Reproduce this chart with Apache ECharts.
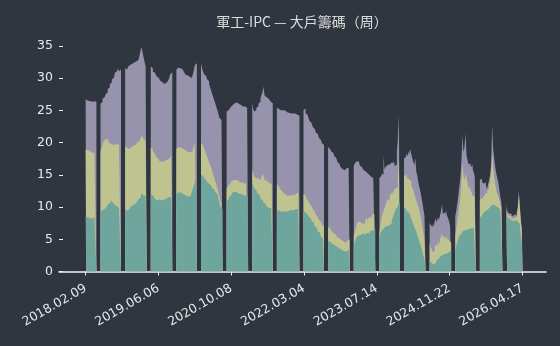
<!DOCTYPE html>
<html><head><meta charset="utf-8">
<script src="https://cdn.jsdelivr.net/npm/echarts@6/dist/echarts.min.js"></script>
<style>html,body{margin:0;padding:0;background:#30363f}#c{width:560px;height:346px}</style>
</head><body><div id="c"></div>
<script>
const _ = null; // missing weeks
const titleText = '軍工-IPC — 大戶籌碼（周）';
const tickIndex = [0, 71, 142, 213, 284, 355, 426];
const tickLabels = ['2018.02.09', '2019.06.06', '2020.10.08', '2022.03.04', '2023.07.14', '2024.11.22', '2026.04.17'];
const yTicks = [0, 5, 10, 15, 20, 25, 30, 35];

// cumulative share of large holders (top = purple, mid = yellow, bottom = teal)
const topShare = [
26.7,26.6,26.5,26.6,26.4,26.5,26.3,26.2,26.4,26.5,26.3, _,_,_,_,
26.0,26.3,26.8,27.0,27.2,27.5,27.8,28.3,28.5,29.0,29.3,29.8,30.0,30.3,30.8,31.0,31.3,31.5,31.0,31.3, _,_,_,_,
31.5,31.3,31.6,31.8,31.7,32.0,32.2,32.1,32.4,32.3,32.6,32.5,32.8,33.0,33.5,34.2,34.8,34.0,33.2,32.5,31.8, _,_,_,_,
31.8,31.5,31.0,30.8,30.6,30.5,30.2,30.0,29.8,29.6,29.4,29.3,29.1,29.0,29.2,29.4,29.3,29.6,30.0,30.6,30.9, _,_,_,_,
31.3,31.6,31.8,31.7,31.5,31.3,31.0,30.9,30.7,30.5,30.6,30.4,30.2,30.0,30.1,30.0,30.5,31.2,32.0,32.3, _,_,_,_,
32.3,31.5,31.0,30.6,30.3,30.0,29.8,29.5,29.0,28.5,28.0,27.5,27.0,26.5,26.0,25.5,25.0,24.4,23.8,23.5,23.8, _,_,_,_,
24.8,25.0,25.3,25.2,25.5,25.6,25.8,25.9,26.1,26.0,26.2,26.0,25.9,25.8,25.7,25.6,25.8,25.6,25.5,25.4,25.3, _,_,_,_,
26.1,25.2,24.8,25.0,25.4,25.6,26.0,26.3,26.8,27.4,27.8,28.7,27.3,27.0,27.2,26.8,26.6,26.5,26.3,26.1, _,_,_,_,
25.4,25.3,25.2,25.0,25.1,25.0,24.9,25.0,24.8,24.9,24.7,24.8,24.6,24.7,24.5,24.6,24.5,24.4,24.5,24.3,24.4,24.2, _,_,_,_,
25.0,25.3,24.5,24.3,24.0,23.7,23.3,23.0,22.7,22.4,22.1,21.8,21.5,21.3,21.0,20.7,20.4,20.1,19.9,19.6, _,_,_,_,
19.3,19.0,18.8,18.6,18.4,18.2,17.9,17.6,17.3,17.0,16.7,16.4,16.2,15.9,15.7,15.6,15.7,15.8,16.0,15.9,16.1, _,_,_,_,
16.3,16.8,17.1,17.3,17.0,16.7,16.4,16.2,16.0,15.8,15.6,15.5,15.3,15.2,15.0,14.9,14.7,14.6,14.5,14.3,14.2, _,_,_,_,
14.5,14.8,15.2,15.0,18.0,15.8,16.2,16.5,16.8,16.6,16.4,16.9,17.2,16.8,17.4,16.3,16.6,18.5,20.5,24.3, _,_,_,_,
17.5,17.8,18.2,17.9,18.6,18.2,19.0,18.3,17.6,17.0,16.5,17.6,15.5,14.8,13.8,13.1,12.4,11.5,10.6,9.6,8.6, _,_,_,_,
7.6,7.2,6.9,7.4,7.0,7.8,8.2,7.6,8.4,8.0,8.6,9.3,10.3,8.9,9.2,8.6,9.5,8.7,8.2,7.8,7.0, _,_,_,_,
8.6,9.4,10.5,11.8,13.2,14.5,17.0,21.0,18.5,19.3,21.4,18.0,17.2,16.6,16.8,16.2,16.5,15.9,16.0,14.8, _,_,_,_,
14.2,14.4,13.9,13.6,13.3,13.8,13.2,12.8,13.5,14.2,15.0,16.5,22.7,19.0,17.5,16.2,15.2,14.5,13.8,12.6,11.5,10.6, _,_,_,_,
10.3,9.2,9.0,8.7,8.9,8.5,8.8,8.4,8.9,8.6,9.2,10.0,12.6,10.2,8.0,6.5
];
const midShare = [
18.9,18.8,18.8,18.7,18.6,18.6,18.5,18.4,18.4,18.3,18.3, _,_,_,_,
18.6,19.2,19.8,20.2,20.5,20.4,20.6,20.3,20.0,19.8,19.9,19.7,19.8,19.6,19.7,19.8,19.6,19.5,19.6,19.5, _,_,_,_,
19.4,19.2,19.0,18.9,19.0,19.2,19.3,19.5,19.4,19.6,19.8,19.9,20.0,20.2,20.4,20.7,21.0,20.8,20.5,20.2,20.0, _,_,_,_,
19.2,19.0,18.6,18.3,18.0,17.8,17.6,17.4,17.2,17.0,16.9,17.0,17.1,17.2,17.0,17.1,17.3,17.4,17.5,17.6,18.0, _,_,_,_,
19.0,19.3,19.4,19.2,19.3,19.1,19.0,18.9,18.8,18.7,18.6,18.5,18.4,18.5,18.3,18.6,19.0,19.4,19.9,20.0, _,_,_,_,
19.9,19.6,19.3,19.0,18.6,18.2,17.8,17.3,16.9,16.5,16.0,15.5,15.0,14.5,14.0,13.4,12.9,12.3,11.6,10.9,10.5, _,_,_,_,
12.8,13.2,13.5,13.8,13.9,14.0,14.2,14.3,14.2,14.1,14.2,14.0,13.9,13.8,13.7,13.8,13.9,13.7,13.8,13.6,13.7, _,_,_,_,
15.8,15.2,14.7,14.5,14.3,14.2,14.4,14.2,14.0,14.6,15.2,14.8,14.2,14.0,14.5,13.9,13.7,13.8,13.6,13.5, _,_,_,_,
13.5,13.2,13.0,12.8,12.5,12.3,12.2,12.1,12.0,11.9,11.8,11.7,11.6,11.8,11.7,11.9,12.0,11.8,11.9,12.1,12.0,12.2, _,_,_,_,
12.0,11.8,11.5,11.2,10.9,10.6,10.4,10.1,9.8,9.6,9.3,9.1,8.8,8.5,8.2,8.0,7.7,7.4,7.2,7.0, _,_,_,_,
6.9,6.7,6.5,6.3,6.2,6.0,5.8,5.6,5.5,5.3,5.2,5.1,5.0,4.9,4.8,4.7,4.6,4.5,4.6,4.8,5.0, _,_,_,_,
5.5,6.2,6.8,7.5,7.8,8.0,8.1,7.6,7.3,7.8,7.2,7.6,8.3,8.0,7.7,8.5,8.3,8.6,8.8,8.7,8.9, _,_,_,_,
6.0,7.2,8.3,8.8,9.4,9.8,10.3,10.8,11.2,11.0,11.6,12.0,12.3,11.8,12.6,12.9,13.2,13.0,14.5,17.5, _,_,_,_,
14.8,15.0,14.7,14.5,14.6,14.3,14.0,13.5,13.0,12.6,12.0,11.5,11.0,10.5,10.0,9.5,8.7,7.9,6.9,5.8,4.6, _,_,_,_,
4.4,3.8,3.4,3.0,3.2,3.8,4.2,3.9,4.6,4.3,5.0,5.4,6.0,5.2,5.6,5.0,5.5,5.1,4.8,5.0,4.5, _,_,_,_,
5.6,6.6,7.8,9.0,10.2,11.6,14.0,16.8,14.8,14.2,15.2,14.6,13.8,12.8,13.2,12.6,12.2,11.8,11.6,11.2, _,_,_,_,
11.0,11.4,11.2,11.6,11.8,12.2,12.0,12.5,12.8,13.4,14.0,15.6,18.3,16.0,14.6,13.5,12.6,12.0,11.6,11.1,10.5,10.0, _,_,_,_,
9.8,8.8,8.6,8.3,8.5,8.1,8.4,8.0,8.5,8.2,8.8,9.6,11.8,9.7,7.6,6.0
];
const lowShare = [
8.5,8.4,8.4,8.3,8.3,8.2,8.3,8.2,8.3,8.4,8.3, _,_,_,_,
9.3,9.4,9.5,9.7,9.8,10.0,10.2,10.4,10.6,10.8,11.0,10.7,10.5,10.4,10.3,10.2,10.1,10.0,9.9,9.8, _,_,_,_,
9.6,9.5,9.4,9.6,9.8,10.0,10.1,10.2,10.4,10.5,10.7,10.9,11.0,11.2,11.5,11.8,12.1,12.0,11.8,11.9,11.7, _,_,_,_,
12.0,11.8,11.6,11.5,11.3,11.2,11.0,10.9,11.2,11.0,10.8,11.1,10.9,11.0,11.2,11.3,11.4,11.5,11.6,11.4,11.5, _,_,_,_,
12.0,12.2,12.4,12.5,12.3,12.1,12.0,11.9,11.8,11.7,11.8,11.6,11.7,11.8,11.9,12.3,12.8,13.3,13.8,14.2, _,_,_,_,
15.0,14.8,14.6,14.4,14.2,14.0,13.8,13.6,13.5,13.3,13.1,12.9,12.7,12.5,12.3,12.0,11.7,11.2,10.7,10.0,9.7, _,_,_,_,
10.9,11.2,11.5,11.7,11.9,12.1,12.3,12.4,12.4,12.3,12.2,12.1,12.0,11.9,12.0,11.9,11.8,11.9,11.8,11.7,11.8, _,_,_,_,
13.7,13.3,12.9,12.6,12.3,12.1,11.9,11.6,11.3,11.1,10.9,10.7,10.5,10.3,10.1,10.0,9.9,9.8,9.8,9.7, _,_,_,_,
9.6,9.5,9.4,9.3,9.3,9.2,9.3,9.4,9.3,9.4,9.3,9.4,9.5,9.4,9.5,9.6,9.5,9.6,9.7,9.6,9.7,9.8, _,_,_,_,
9.4,9.3,9.1,8.9,8.7,8.5,8.3,8.0,7.8,7.6,7.3,7.0,6.8,6.5,6.2,6.0,5.7,5.4,5.1,4.9, _,_,_,_,
4.8,4.6,4.5,4.3,4.2,4.1,4.0,3.9,3.8,3.7,3.6,3.5,3.4,3.3,3.2,3.1,3.0,3.1,3.2,3.4,3.6, _,_,_,_,
4.0,4.5,5.0,5.4,5.6,5.8,5.9,5.7,5.6,5.9,5.7,5.8,6.0,6.1,5.9,6.2,6.3,6.2,6.4,6.5,6.6, _,_,_,_,
5.2,5.8,6.3,6.6,6.8,6.9,7.0,7.1,7.0,7.2,7.3,7.4,7.8,8.3,8.8,9.2,9.7,10.0,10.4,10.7, _,_,_,_,
9.9,9.7,9.5,9.3,9.1,9.0,8.6,8.2,7.8,7.4,7.0,6.6,6.2,5.7,5.2,4.7,4.2,3.6,3.0,2.4,1.9, _,_,_,_,
1.6,1.3,1.1,1.0,1.1,1.3,1.5,1.8,2.0,2.2,2.3,2.4,2.6,2.5,2.7,2.6,2.8,2.9,3.0,3.1,3.2, _,_,_,_,
3.3,3.9,4.6,5.1,5.5,5.8,6.0,6.2,6.3,6.4,6.4,6.5,6.6,6.6,6.7,6.7,6.8,6.8,6.9,6.9, _,_,_,_,
8.4,8.6,8.8,9.0,9.1,9.3,9.5,9.6,9.8,10.0,10.1,10.2,10.3,10.4,10.3,10.2,10.0,9.9,9.8,9.6,9.4,9.3, _,_,_,_,
8.9,8.4,8.2,8.0,8.1,7.9,8.0,7.8,8.0,7.9,7.9,7.7,7.4,6.8,5.6,4.3
];

const BG = '#30363f';
const toPairs = arr => arr.map((v, i) => [i, v === null ? '-' : v]);
function areaSeries(name, arr, color, z) {
  return {
    name, type: 'line', data: toPairs(arr), step: 'middle', z,
    showSymbol: false, symbol: 'none', connectNulls: false, silent: true,
    lineStyle: { width: 0 }, areaStyle: { color, opacity: 1 }, animation: false
  };
}
const chart = echarts.init(document.getElementById('c'), null, { renderer: 'canvas' });
chart.setOption({
  backgroundColor: BG,
  animation: false,
  title: {
    text: titleText, left: 302, top: 15, padding: 0, textAlign: 'center',
    textStyle: { color: '#dcdcdc', fontSize: 14, fontWeight: 'normal', fontFamily: 'Noto Sans CJK TC' }
  },
  grid: { left: 59, right: 14, top: 39.3, bottom: 74.5 },
  xAxis: {
    type: 'value', min: -26, max: 449,
    axisLine: { show: true, onZero: false, lineStyle: { color: '#f2f2f2', width: 1.5 } },
    axisTick: { show: true, length: 4, lineStyle: { color: '#f2f2f2', width: 1 }, customValues: tickIndex },
    axisLabel: {
      customValues: tickIndex, rotate: 30, margin: 16, color: '#e8e8e8', fontSize: 12.5, fontFamily: 'DejaVu Sans',
      formatter: v => tickLabels[tickIndex.indexOf(v)] || ''
    },
    splitLine: { show: false }
  },
  yAxis: {
    type: 'value', min: 0, max: 36,
    axisLine: { show: false, onZero: false },
    axisTick: { show: true, inside: true, length: 4, lineStyle: { color: '#f2f2f2', width: 1 }, customValues: yTicks },
    axisLabel: { customValues: yTicks, margin: 6, color: '#e8e8e8', fontSize: 12.5, fontFamily: 'DejaVu Sans' },
    splitLine: { show: false }
  },
  series: [
    areaSeries('top', topShare, '#9893ad', 1),
    areaSeries('mid', midShare, '#bfc390', 2),
    areaSeries('low', lowShare, '#6ea59c', 3)
  ]
});
</script></body></html>
